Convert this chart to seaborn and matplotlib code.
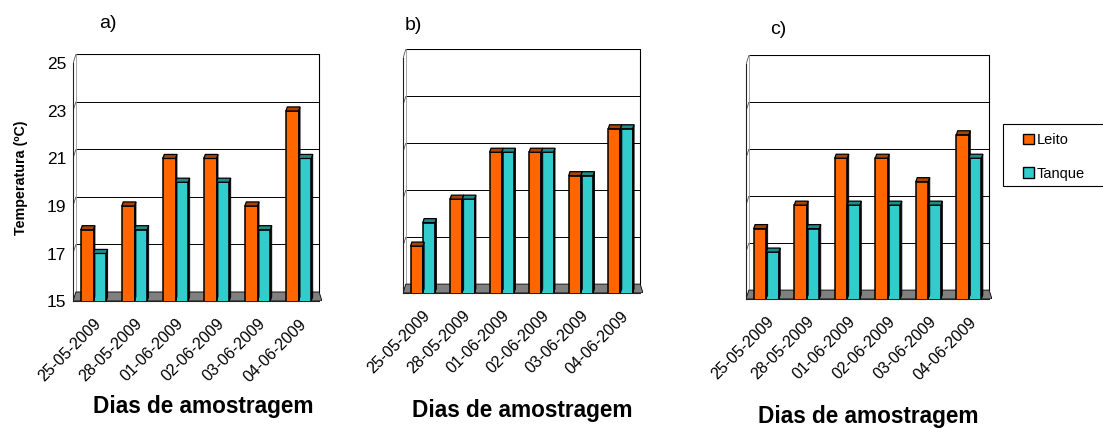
import matplotlib
matplotlib.use("Agg")
import matplotlib.pyplot as plt
from matplotlib.patches import Polygon, Rectangle
import pandas as pd
import seaborn as sns

# dados
dias = ["25-05-2009", "28-05-2009", "01-06-2009", "02-06-2009", "03-06-2009", "04-06-2009"]
series = ["Leito", "Tanque"]
leito_a = [18, 19, 21, 21, 19, 23]
tanque_a = [17, 18, 20, 20, 18, 21]
leito_b = [17, 19, 21, 21, 20, 22]
tanque_b = [18, 19, 21, 21, 20, 22]
leito_c = [18, 19, 21, 21, 20, 22]
tanque_c = [17, 18, 19, 19, 19, 21]
paineis = ["a)", "b)", "c)"]
yticks = [15, 17, 19, 21, 23, 25]

cores = ["#FF6600", "#33CCCC"]
cores_topo = ["#A84300", "#1F8A8A"]

sns.set_style("white")
plt.rcParams["font.family"] = ["Liberation Sans", "DejaVu Sans"]
plt.rcParams["text.color"] = "black"
plt.rcParams["axes.labelcolor"] = "black"
plt.rcParams["xtick.color"] = "black"
plt.rcParams["ytick.color"] = "black"

fig = plt.figure(figsize=(11.03, 4.28), dpi=100)
W, H = 1103, 428
# (left, bottom_front_y, right, top_px) em pixels
caixas = [(73, 301, 322, 54), (403, 293, 643, 49), (746, 299, 992, 55)]
titulos_pos = [(108, 24), (413, 26), (778, 29)]
xlabel_pos = [(203, 407), (522, 411), (868, 416)]

dados = [(leito_a, tanque_a), (leito_b, tanque_b), (leito_c, tanque_c)]
ymax = 25.4
ddx, ddy = 0.07, 0.38

for i, (le, ta) in enumerate(dados):
    l, b, r, t = caixas[i]
    ax = fig.add_axes([l / W, (H - b) / H, (r - l) / W, (b - t) / H])
    df = pd.DataFrame({
        "dia": dias * 2,
        "serie": [series[0]] * len(dias) + [series[1]] * len(dias),
        "temp": le + ta,
    })
    sns.barplot(data=df, x="dia", y="temp", hue="serie", palette=cores,
                width=0.62, edgecolor="black", linewidth=1.1, ax=ax,
                saturation=1, zorder=3)
    if ax.get_legend() is not None:
        ax.get_legend().remove()
    bars = [p for p in ax.patches if isinstance(p, Rectangle) and p.get_height() > 0]

    ax.set_xlim(-0.5, 5.5 + ddx)
    ax.set_ylim(15, ymax)

    # parede do fundo e grade
    x0, x1 = -0.5, 5.5
    for y in yticks[1:-1]:
        ax.plot([x0 + ddx, x1], [y + ddy, y + ddy], color="black", lw=0.7, zorder=1)
        ax.plot([x0, x0 + ddx], [y, y + ddy], color="#555555", lw=0.6, zorder=1)
    ax.plot([x0 + ddx, x1, x1], [25 + ddy, 25 + ddy, 15 + ddy], color="black", lw=0.8, zorder=1)
    ax.plot([x0, x0 + ddx], [25, 25 + ddy], color="#555555", lw=0.6, zorder=1)
    ax.plot([x0 + ddx, x0 + ddx], [15 + ddy, 25 + ddy], color="#999999", lw=0.6, zorder=1)
    # chão cinzento
    ax.add_patch(Polygon([(x0, 15), (x1 + ddx, 15), (x1, 15 + ddy), (x0 + ddx, 15 + ddy)],
                         closed=True, facecolor="#808080", edgecolor="black", lw=0.6, zorder=2))

    # topo e lado das barras (efeito 3D)
    for p in bars:
        x, w, h = p.get_x(), p.get_width(), p.get_height()
        hexc = matplotlib.colors.to_hex(p.get_facecolor()).upper()
        idx = cores.index(hexc) if hexc in cores else 0
        ex, ey = ddx * 0.5, ddy * 0.45
        ax.add_patch(Polygon([(x, h), (x + w, h), (x + w + ex, h + ey), (x + ex, h + ey)],
                             closed=True, facecolor=cores_topo[idx], edgecolor="black", lw=0.9, zorder=4))
        ax.add_patch(Polygon([(x + w, 15), (x + w, h), (x + w + ex, h + ey), (x + w + ex, 15 + ey)],
                             closed=True, facecolor="black", edgecolor="black", lw=0.6, zorder=4))

    for s in ["top", "right"]:
        ax.spines[s].set_visible(False)
    ax.spines["left"].set_bounds(15, 25)
    ax.spines["bottom"].set_bounds(-0.5, 5.5)
    for s in ["left", "bottom"]:
        ax.spines[s].set_color("#222222")
        ax.spines[s].set_linewidth(0.8)

    ax.set_yticks(yticks)
    if i == 0:
        ax.set_yticklabels([str(v) for v in yticks], fontsize=12.5)
        ax.set_ylabel("Temperatura (ºC)", fontsize=10.3, fontweight="bold", labelpad=13)
    else:
        ax.set_yticklabels([])
        ax.set_ylabel("")
    ax.tick_params(axis="y", direction="out", length=4, width=0.8, pad=1)

    ax.set_xticks(range(len(dias)))
    ax.set_xticklabels(dias, rotation=45, ha="right", rotation_mode="anchor", fontsize=11.5)
    ax.set_xticks([k - 0.5 for k in range(len(dias) + 1)], minor=True)
    ax.tick_params(axis="x", which="major", length=0, pad=11)
    ax.tick_params(axis="x", which="minor", direction="out", length=4, width=0.8)
    ax.set_xlabel("")
    ax.grid(False)

    tx, ty = titulos_pos[i]
    fig.text(tx / W, 1 - ty / H, paineis[i], fontsize=14, ha="center", va="center")
    lx, ly = xlabel_pos[i]
    fig.text(lx / W, 1 - ly / H, "Dias de amostragem", fontsize=16.3, fontweight="bold",
             ha="center", va="center")

# caixa da legenda
fig.patches.append(Rectangle((1003 / W, 1 - 186 / H), 110 / W, 62 / H, transform=fig.transFigure,
                             facecolor="white", edgecolor="black", lw=0.8, zorder=0))
handles = [Rectangle((0, 0), 1, 1, facecolor=c, edgecolor="black", lw=1) for c in cores]
leg = fig.legend(handles, series, loc="upper left", bbox_to_anchor=(1023 / W, 1 - 133 / H),
                 fontsize=10.5, frameon=False, handlelength=0.75, handleheight=0.75,
                 handletextpad=0.2, labelspacing=1.35, borderpad=0, borderaxespad=0)

fig.savefig("out.png", dpi=100)
